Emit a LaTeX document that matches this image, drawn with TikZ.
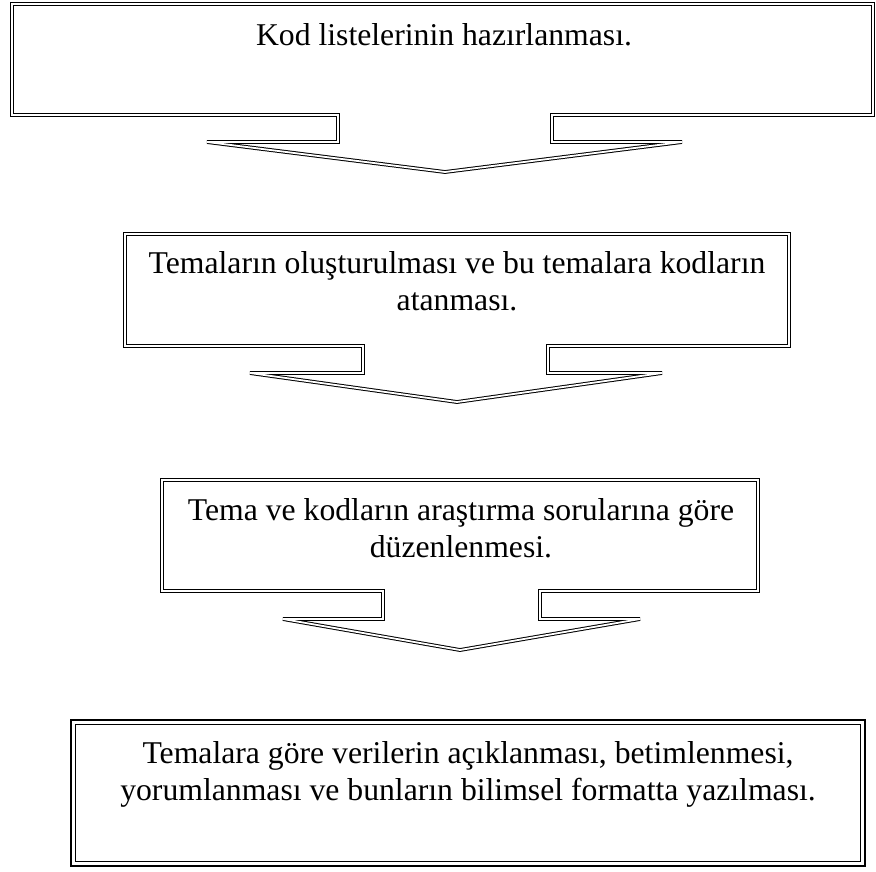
\documentclass[tikz,border=0pt]{standalone}
\usepackage{fontspec}
\setmainfont{Liberation Serif}
\usepackage{tikz}
\tikzset{
  steptext/.style = {align=center, inner sep=0pt, anchor=base,
    font=\fontsize{31.7}{37}\selectfont},
  callout/.style = {draw=black, double=white, line width=1pt,
    double distance=1.8pt, line join=miter},
  lastout/.style = {draw=black, line width=2.8pt},
  lastin/.style = {draw=black, line width=1.3pt}
}
\begin{document}
\begin{tikzpicture}[x=1pt,y=-1pt]
  \useasboundingbox (0,0) rectangle (876,871);
  % kutu + asagi ok
  \draw [callout] (12,4) -- (873,4) -- (873,115) -- (552,115) -- (552,142) -- (682,142)
    -- (445,172) -- (207,142) -- (338,142) -- (338,115) -- (12,115) -- cycle;
  \draw [callout] (125,234) -- (789,234) -- (789,346) -- (548,346) -- (548,373) -- (662,373)
    -- (457,402) -- (250,373) -- (363,373) -- (363,346) -- (125,346) -- cycle;
  \draw [callout] (162,480) -- (758,480) -- (758,591) -- (540,591) -- (540,619) -- (640,619)
    -- (460,650) -- (283,619) -- (383,619) -- (383,591) -- (162,591) -- cycle;
  % son kutu
  \draw [lastout] (71,720) rectangle (865,866);
  \draw [lastin] (75.5,724.5) rectangle (860.5,861.5);

  \node [steptext] (t1) at (444,45)  {Kod listelerinin hazırlanması.};
  \node [steptext] (t2) at (457,310) {Temaların oluşturulması ve bu temalara kodların\\ atanması.};
  \node [steptext] (t3) at (461,557) {Tema ve kodların araştırma sorularına göre\\ düzenlenmesi.};
  \node [steptext] (t4) at (468,800) {Temalara göre verilerin açıklanması, betimlenmesi,\\ yorumlanması ve bunların bilimsel formatta yazılması.};
\end{tikzpicture}
\end{document}
